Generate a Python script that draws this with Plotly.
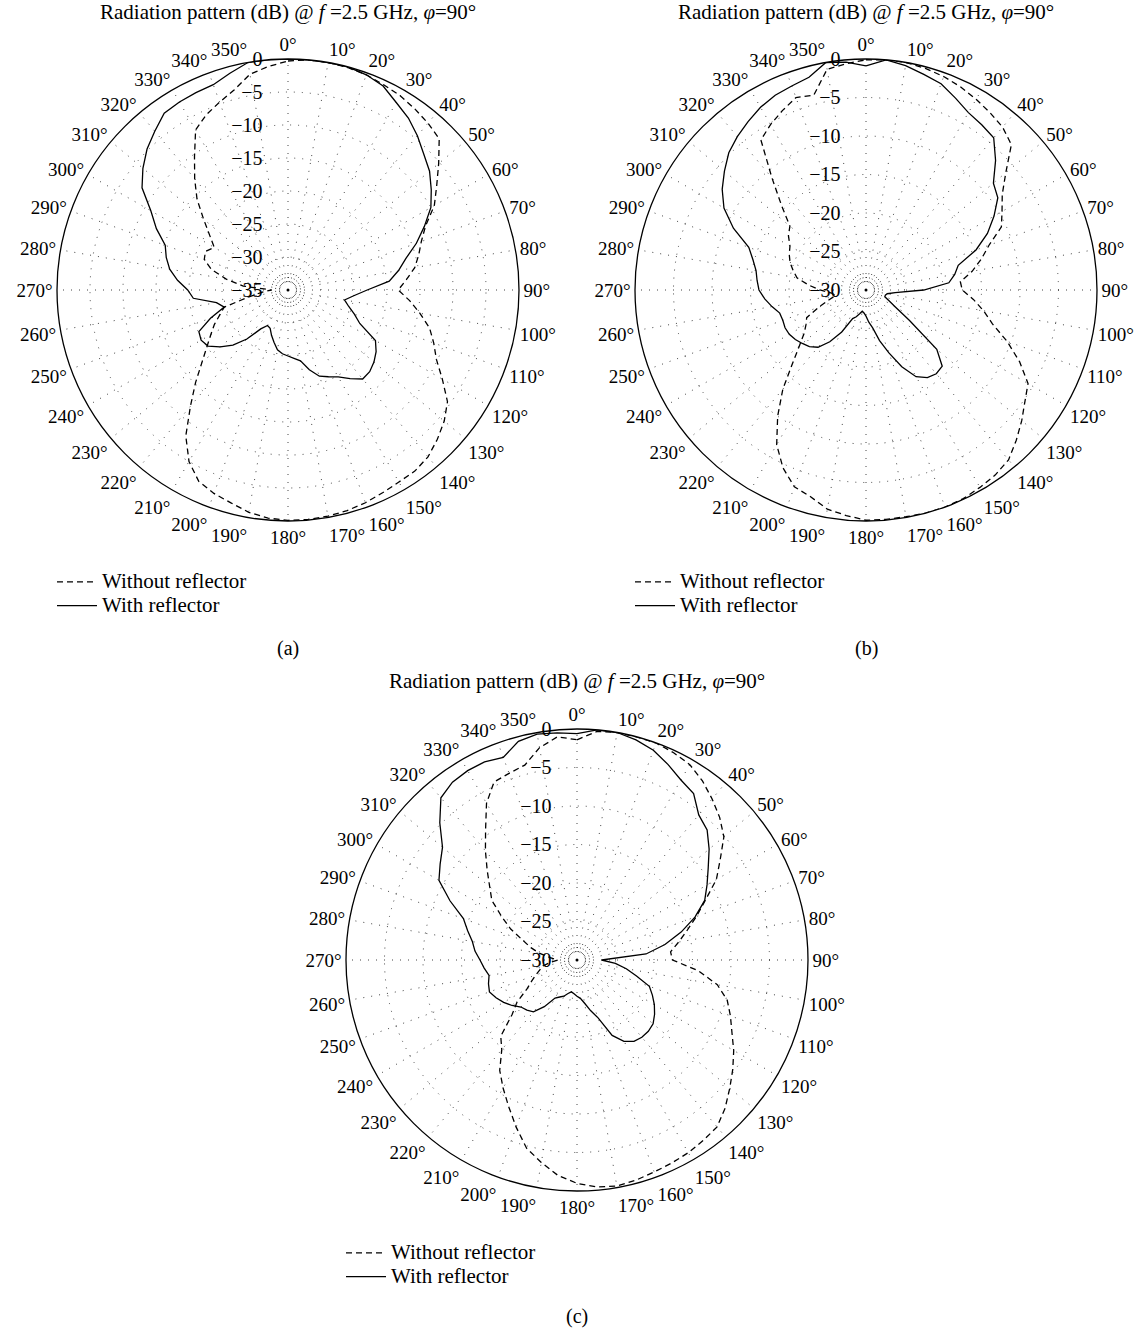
import plotly.graph_objects as go

# Angle grid (degrees, clockwise from broadside 0°) shared by all patterns
ANGLES = list(range(0, 360, 5))

# (a) normalised gain in dB
a_without = [-0.3, 0, 0, -0.1, -0.3, -0.7, -1.0, -1.5, -2.0, -2.6, -5.2, -7.5,
             -9.4, -12, -13.5, -14.5, -15.5, -17, -18.3, -16.5, -14.7, -12.8, -11.5, -10.2,
             -8.0, -5.5, -4.1, -3.0, -2.0, -1.5, -1.4, -1.1, -0.7, -0.4, -0.2, -0.1,
             -0.1, -0.3, -0.8, -1.6, -2.2, -3.0, -5.0, -8.0, -12.0, -15.2, -18.0, -20.0,
             -21.5, -22.7, -24, -25, -29, -31, -32.5, -28.2, -25.5, -23, -21.5, -21.2,
             -22.1, -20.5, -18.3, -15.5, -13, -10.3, -7, -5.7, -4.7, -3.6, -1.8, -1.0]
a_with = [0, 0, 0, 0, -0.3, -0.9, -2.2, -3.2, -4.5, -5.9, -7.0, -8.5,
          -10, -12.2, -14.3, -16.5, -18, -19.6, -23, -25, -26.3, -25.5, -24.3, -23,
          -19.7, -18.7, -18, -17.5, -17.4, -18.6, -19.8, -20.5, -21.1, -22.5, -24.1, -24.6,
          -25, -25.3, -25.8, -26.8, -27.7, -28.6, -28.8, -27.8, -25.3, -23.2, -21.6, -20.2,
          -19.8, -20.1, -22.5, -25, -24, -20.6, -19.8, -18.2, -16.8, -15.9, -15.2, -13,
          -11, -8, -6.3, -4.8, -3.6, -2.3, -2.1, -2.0, -1.9, -1.0, 0, 0]

# (b)
b_without = [-0.1, 0, 0, -0.2, -0.5, -0.9, -1.4, -1.9, -2.4, -3.3, -6.3, -8.4,
             -9.6, -10.6, -13, -14.5, -16, -17.7, -17.5, -16, -14.5, -13, -10.5, -8,
             -5.7, -4.8, -3.6, -2.4, -1.2, -0.7, -0.4, -0.1, 0, 0, -0.1, -0.1,
             -0.1, -0.6, -1.1, -2.2, -2.8, -4.5, -6.8, -10, -13.2, -16.5, -18.7, -20.2,
             -21, -21.5, -23.5, -25, -26, -25.5, -24, -22.5, -20.9, -20.2, -19.5, -19,
             -18.6, -17.7, -17.1, -14.5, -11, -6.2, -5.2, -4.3, -3.4, -3.8, -0.9, -0.5]
b_with = [-0.9, 0, -0.4, -1, -1.5, -2.5, -3.4, -3.8, -4.2, -6.2, -8.4, -9.1,
          -10.8, -12.6, -14.8, -17.6, -18.3, -19.2, -22.5, -26.2, -27.2, -27.4, -27.4, -26.7,
          -25.6, -23.1, -18, -16, -15.8, -16.1, -17, -19, -21.3, -23.2, -25, -25.8,
          -26.6, -27, -27.2, -26.8, -26.3, -25.9, -23.7, -21.8, -20.3, -19.6, -19.2, -18.8,
          -18.5, -18.4, -18.5, -18.4, -17.6, -16.8, -16.1, -15.8, -15.5, -14.8, -13.8, -11,
          -8.7, -7.2, -6, -4.8, -4, -3.3, -2.6, -2.1, -1.8, -1.4, 0, -0.3]

# (c)
c_without = [-1.4, -0.2, 0, 0, 0, -0.3, -0.7, -1.6, -2.7, -3.8, -5.1, -7.3,
             -9.1, -11.6, -13.5, -15.2, -16.6, -17.8, -17.6, -14.2, -11.5, -9.8, -8.8, -7.8,
             -6.5, -5.3, -4.1, -2.8, -1.7, -1.4, -1.1, -0.9, -0.7, -0.4, -0.2, -0.4,
             -1.0, -1.9, -3.3, -4.7, -6.9, -9.0, -10.8, -12.5, -14.8, -16, -19, -20.5,
             -22.5, -23.5, -24.3, -25, -25.5, -26.5, -27.5, -26.5, -25.1, -23.8, -22.5, -20.5,
             -18.7, -16.5, -15.2, -13.5, -11.5, -9.3, -6.5, -4.5, -4.2, -3.8, -2, -0.9]
c_with = [-0.6, 0, 0, -0.4, -1.0, -2.0, -3.0, -3.6, -5.4, -6.1, -7.6, -9.2,
          -10.5, -11.7, -13.7, -16, -18.4, -21, -26.8, -25, -23.5, -22, -20, -19.2,
          -18.4, -17.7, -17.1, -16.9, -16.9, -17.1, -17.8, -19.2, -22, -23.2, -24.3, -25,
          -25.3, -25.6, -25.8, -25.5, -25, -24.7, -24.3, -22.6, -21.2, -20.8, -20.5, -19.7,
          -19, -18.4, -17.9, -18.1, -18.4, -17.9, -17.4, -16.7, -16.2, -15.3, -14.3, -11.8,
          -9.3, -8.3, -7.2, -4.8, -2.5, -1.8, -1.6, -1.6, -2.0, -0.6, -0.2, -0.4]

# Radial floor (dB) of each panel
floors = {"a": -35, "b": -30, "c": -30}
panel_letters = ["a", "b", "c"]
series = {"a": (a_without, a_with), "b": (b_without, b_with), "c": (c_without, c_with)}

ANG_TICKS = list(range(0, 360, 10))
ANG_TEXT = [f"{t}°" for t in ANG_TICKS]
SERIES_NAMES = ["Without reflector", "With reflector"]

W, H = 1144, 1331
FONT = "Liberation Serif"
TITLE = "Radiation pattern (dB) @ <i>f</i> =2.5 GHz, <i>φ</i>=90°"

# Pixel layout of each panel: circle centre and radius
layout_px = {"a": (288, 290), "b": (866, 290), "c": (577, 960)}
RADIUS = 231

fig = go.Figure()


def closed(v):
    return list(v) + [v[0]]


def legend_label(text):
    # larger glyphs than the legend's row-height font so rows stay compact
    return f'<span style="font-size:21px">{text}</span>'


theta_closed = ANGLES + [360]

for i, key in enumerate(panel_letters):
    sub = "polar" if i == 0 else f"polar{i + 1}"
    leg = "legend" if i == 0 else f"legend{i + 1}"
    without, with_ = series[key]
    floor = floors[key]

    fig.add_trace(go.Scatterpolar(
        r=closed(without), theta=theta_closed, mode="lines",
        name=legend_label(SERIES_NAMES[0]),
        line=dict(color="black", width=1.3, dash="6px,4px"),
        subplot=sub, legend=leg))
    fig.add_trace(go.Scatterpolar(
        r=closed(with_), theta=theta_closed, mode="lines",
        name=legend_label(SERIES_NAMES[1]),
        line=dict(color="black", width=1.3),
        subplot=sub, legend=leg))

    # small dotted ring and dot marking the pattern origin
    ring_r = floor + (-floor) * 12.5 / RADIUS
    fig.add_trace(go.Scatterpolar(
        r=[ring_r] * len(theta_closed), theta=theta_closed, mode="lines",
        line=dict(color="#333", width=1, dash="1px,2px"),
        showlegend=False, hoverinfo="skip", subplot=sub))
    fig.add_trace(go.Scatterpolar(
        r=[floor], theta=[0], mode="markers",
        marker=dict(color="black", size=3),
        showlegend=False, hoverinfo="skip", subplot=sub))

    cx, cy = layout_px[key]
    dom_x = [(cx - RADIUS) / W, (cx + RADIUS) / W]
    dom_y = [1 - (cy + RADIUS) / H, 1 - (cy - RADIUS) / H]

    fig.layout[sub] = dict(
        domain=dict(x=dom_x, y=dom_y),
        bgcolor="white",
        radialaxis=dict(
            range=[floor, 0], tickvals=list(range(floor, 1, 5)),
            angle=90, side="counterclockwise", showline=False,
            ticks="outside", ticklen=18, tickcolor="rgba(0,0,0,0)", tickangle=90,
            gridcolor="#444", griddash="1px,7px", gridwidth=1,
            tickfont=dict(family=FONT, size=20, color="black"),
        ),
        angularaxis=dict(
            rotation=90, direction="clockwise",
            tickmode="array", tickvals=ANG_TICKS, ticktext=ANG_TEXT,
            showline=True, linecolor="black", linewidth=1.3, ticks="",
            gridcolor="#444", griddash="1px,7px", gridwidth=1,
            tickfont=dict(family=FONT, size=19, color="black"),
        ),
    )

    # title above the panel
    fig.add_annotation(text=TITLE, x=cx / W, y=1 - (12 if key != "c" else 681) / H,
                       xref="paper", yref="paper", showarrow=False,
                       font=dict(family=FONT, size=21, color="black"),
                       xanchor="center", yanchor="middle")
    # panel letter
    fig.add_annotation(text=f"({key})", x=cx / W, y=1 - (648 if key != "c" else 1316) / H,
                       xref="paper", yref="paper", showarrow=False,
                       font=dict(family=FONT, size=20, color="black"),
                       xanchor="center", yanchor="middle")

    leg_top = 565 if key != "c" else 1236
    fig.layout[leg] = dict(
        x=(cx - RADIUS - 5) / W, y=1 - leg_top / H, xanchor="left", yanchor="top",
        font=dict(family=FONT, size=16, color="black"),
        bgcolor="rgba(0,0,0,0)", itemwidth=40, tracegroupgap=0,
    )

fig.update_layout(
    width=W, height=H, margin=dict(l=0, r=0, t=0, b=0),
    paper_bgcolor="white", showlegend=True,
    font=dict(family=FONT, color="black"),
)

fig.write_html("out.html")
